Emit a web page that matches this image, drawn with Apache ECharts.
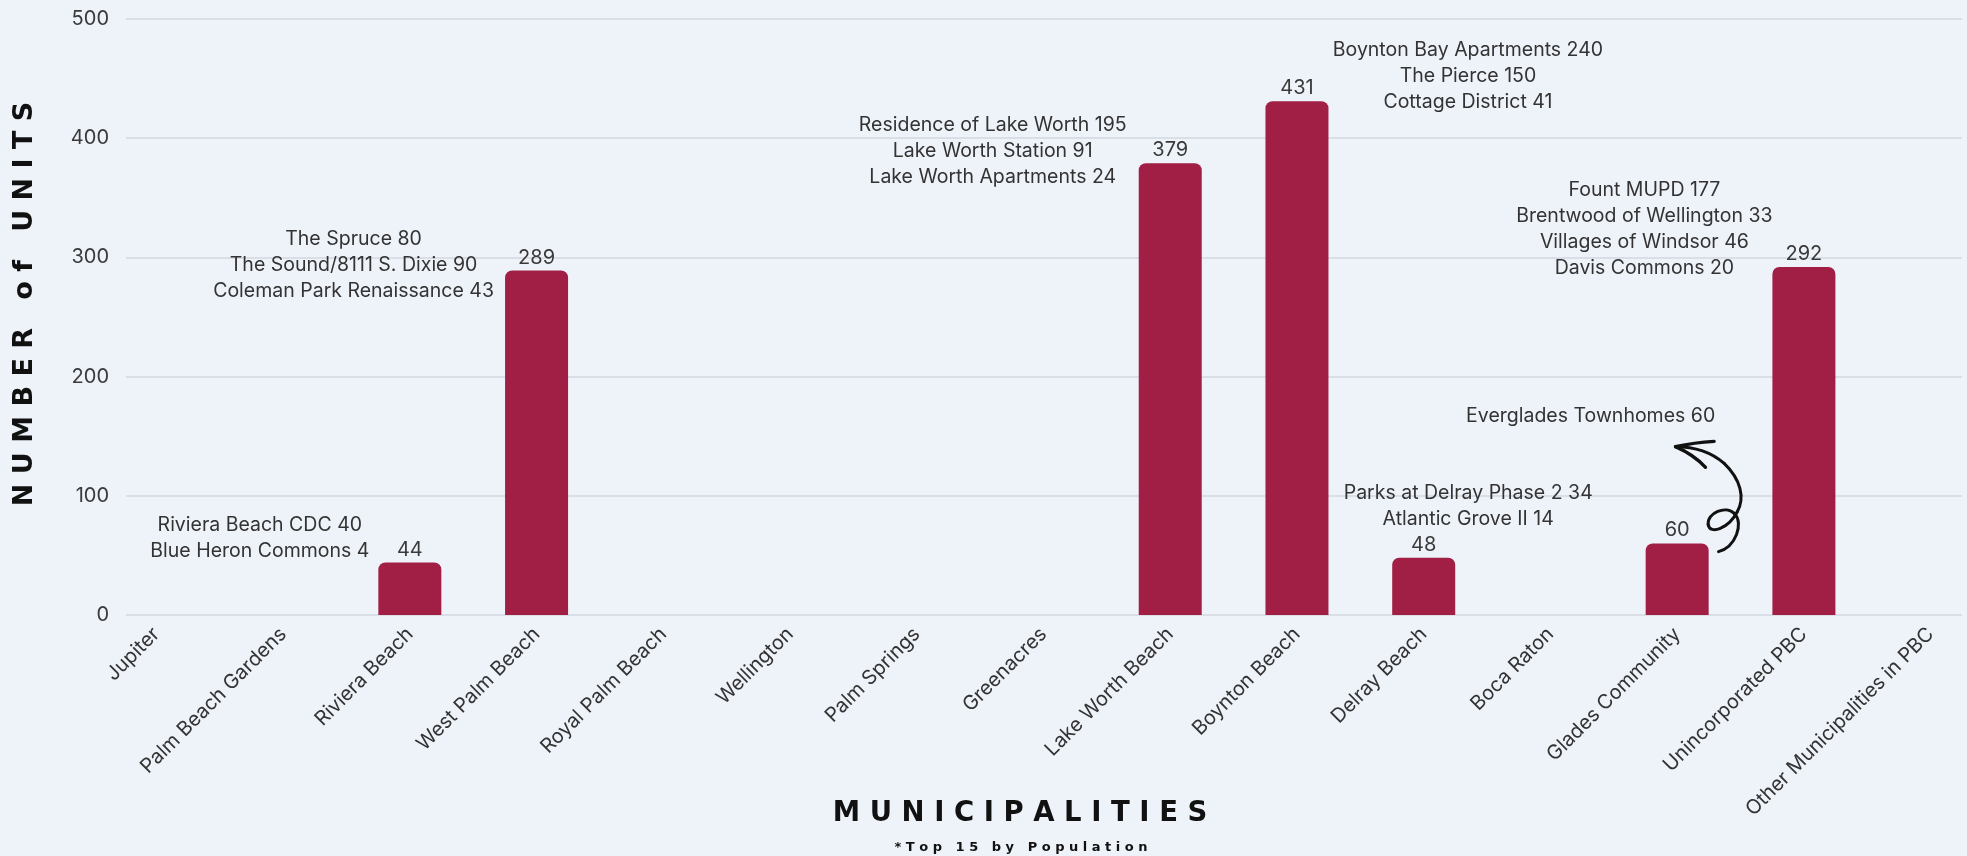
<!DOCTYPE html>
<html>
<head>
<meta charset="utf-8">
<script src="https://cdn.jsdelivr.net/npm/echarts@6/dist/echarts.min.js"></script>
<style>
html,body{margin:0;padding:0;background:#EEF2F9;}
#c{width:1967px;height:856px;}
</style>
</head>
<body>
<div id="c"></div>
<script>
// ---- data ----
const categories = ['Jupiter','Palm Beach Gardens','Riviera Beach','West Palm Beach','Royal Palm Beach','Wellington','Palm Springs','Greenacres','Lake Worth Beach','Boynton Beach','Delray Beach','Boca Raton','Glades Community','Unincorporated PBC','Other Municipalities in PBC'];
const units = [0, 0, 44, 289, 0, 0, 0, 0, 379, 431, 48, 0, 60, 292, 0];
const yTicks = [0, 100, 200, 300, 400, 500];

const rivieraProjects = ['Riviera Beach CDC 40', 'Blue Heron Commons 4'];
const westPalmProjects = ['The Spruce 80', 'The Sound/8111 S. Dixie 90', 'Coleman Park Renaissance 43'];
const lakeWorthProjects = ['Residence of Lake Worth 195', 'Lake Worth Station 91', 'Lake Worth Apartments 24'];
const boyntonProjects = ['Boynton Bay Apartments 240', 'The Pierce 150', 'Cottage District 41'];
const delrayProjects = ['Parks at Delray Phase 2 34', 'Atlantic Grove II 14'];
const gladesProjects = ['Everglades Townhomes 60'];
const unincorporatedProjects = ['Fount MUPD 177', 'Brentwood of Wellington 33', 'Villages of Windsor 46', 'Davis Commons 20'];

const yTitle = 'NUMBER of UNITS';
const xTitle = 'MUNICIPALITIES';
const xSubtitle = '*Top 15 by Population';

// ---- layout / style ----
const annotations = [
  {cat: 'Riviera Beach', lines: rivieraProjects, dx: -150, dy: -37.5},
  {cat: 'West Palm Beach', lines: westPalmProjects, dx: -183, dy: -31.5},
  {cat: 'Lake Worth Beach', lines: lakeWorthProjects, dx: -177.5, dy: -38},
  {cat: 'Boynton Beach', lines: boyntonProjects, dx: 171, dy: -51},
  {cat: 'Delray Beach', lines: delrayProjects, dx: 44.5, dy: -65},
  {cat: 'Glades Community', lines: gladesProjects, dx: -86.5, dy: -127},
  {cat: 'Unincorporated PBC', lines: unincorporatedProjects, dx: -159.5, dy: -77}
];
const LH = 26;
const FONT = 'Inter, "Noto Sans", sans-serif';
function spaced(s, gap, wordGap) {
  return s.split(' ').map(w => w.split('').join(gap)).join(wordGap);
}

const chart = echarts.init(document.getElementById('c'), null, {renderer: 'canvas'});
const GRID_TOP = 19, GRID_BOTTOM = 241;
chart.setOption({
  backgroundColor: '#EEF2F9',
  animation: false,
  grid: [
    {left: 126, right: 5, top: GRID_TOP, bottom: GRID_BOTTOM, outerBoundsMode: 'none'},
    {left: 93, width: 1901, top: GRID_TOP, bottom: GRID_BOTTOM, outerBoundsMode: 'none'}
  ],
  xAxis: [
    {gridIndex: 0, type: 'value', min: 0, max: 1, show: false},
    {gridIndex: 1, type: 'category', data: categories,
     axisLine: {show: false}, axisTick: {show: false},
     axisLabel: {interval: 0, rotate: 45, fontSize: 20, color: '#333', fontFamily: FONT, margin: 16}}
  ],
  yAxis: [
    {gridIndex: 0, type: 'value', min: yTicks[0], max: yTicks[yTicks.length - 1], interval: yTicks[1] - yTicks[0],
     axisLine: {show: false}, axisTick: {show: false},
     axisLabel: {fontSize: 20, color: '#3a3a3a', fontFamily: FONT, margin: 17},
     splitLine: {lineStyle: {color: '#D9DEE7', width: 2}}},
    {gridIndex: 1, type: 'value', min: yTicks[0], max: yTicks[yTicks.length - 1], interval: yTicks[1] - yTicks[0], show: false}
  ],
  series: [{
    type: 'bar', xAxisIndex: 1, yAxisIndex: 1, data: units, barWidth: 63,
    itemStyle: {color: '#A11E45', borderRadius: [7, 7, 0, 0]},
    label: {show: true, position: 'top', distance: 3, fontSize: 20, color: '#3a3a3a', fontFamily: FONT,
            formatter: p => (p.value ? String(p.value) : '')}
  }]
});

// ---- annotations placed relative to bar positions ----
const graphics = [];
annotations.forEach(a => {
  const i = categories.indexOf(a.cat);
  const p = chart.convertToPixel({xAxisIndex: 1, yAxisIndex: 1}, [i, units[i]]);
  graphics.push({
    type: 'text', x: p[0] + a.dx, y: p[1] + a.dy - LH / 2, silent: true,
    style: {text: a.lines.join('\n'), fontSize: 19.5, fontFamily: FONT, fill: '#333',
            align: 'center', textAlign: 'center', verticalAlign: 'top', textVerticalAlign: 'top', lineHeight: LH}
  });
});

// hand-drawn arrow next to the Glades Community bar
(function () {
  const i = categories.indexOf('Glades Community');
  const p = chart.convertToPixel({xAxisIndex: 1, yAxisIndex: 1}, [i, units[i]]);
  const segs = [
    [235,395, 288,380, 310,310, 284,282, 9],
    [284,282, 258,254, 200,278, 204,314, 9],
    [204,314, 210,346, 266,324, 291,276, 9],
    [291,276, 315,234, 302,178, 252,130, 9],
    [252,130, 212,95, 160,80, 106,80, 9],
    [106,80, 150,70, 185,66, 222,64, 10],
    [106,80, 140,95, 172,116, 196,142, 10]
  ];
  graphics.push({
    type: 'group', x: p[0] - 37, y: p[1] - 123.5, scaleX: 1 / 3, scaleY: 1 / 3, silent: true,
    children: segs.map(s => ({
      type: 'bezierCurve',
      shape: {x1: s[0], y1: s[1], cpx1: s[2], cpy1: s[3], cpx2: s[4], cpy2: s[5], x2: s[6], y2: s[7]},
      style: {stroke: '#111', lineWidth: s[8], fill: null, lineCap: 'round'}
    }))
  });
})();

// axis titles
graphics.push({
  type: 'text', x: 25, y: 304, rotation: Math.PI / 2, silent: true,
  style: {text: spaced(yTitle, ' ', '   '), fontSize: 27, fontWeight: 'bold', fontFamily: '"DejaVu Sans", sans-serif', fill: '#111',
          align: 'center', textAlign: 'center', verticalAlign: 'middle', textVerticalAlign: 'middle'}
});
graphics.push({
  type: 'text', x: 1020, y: 814, silent: true,
  style: {text: spaced(xTitle, ' ', '   '), fontSize: 27.5, fontWeight: 'bold', fontFamily: '"DejaVu Sans", sans-serif', fill: '#111',
          align: 'center', textAlign: 'center', verticalAlign: 'middle', textVerticalAlign: 'middle'}
});
graphics.push({
  type: 'text', x: 1021, y: 848, silent: true,
  style: {text: spaced(xSubtitle, ' ', '   '), fontSize: 13, fontWeight: 'bold', fontFamily: '"DejaVu Sans", sans-serif', fill: '#111',
          align: 'center', textAlign: 'center', verticalAlign: 'middle', textVerticalAlign: 'middle'}
});

chart.setOption({graphic: graphics});
</script>
</body>
</html>
